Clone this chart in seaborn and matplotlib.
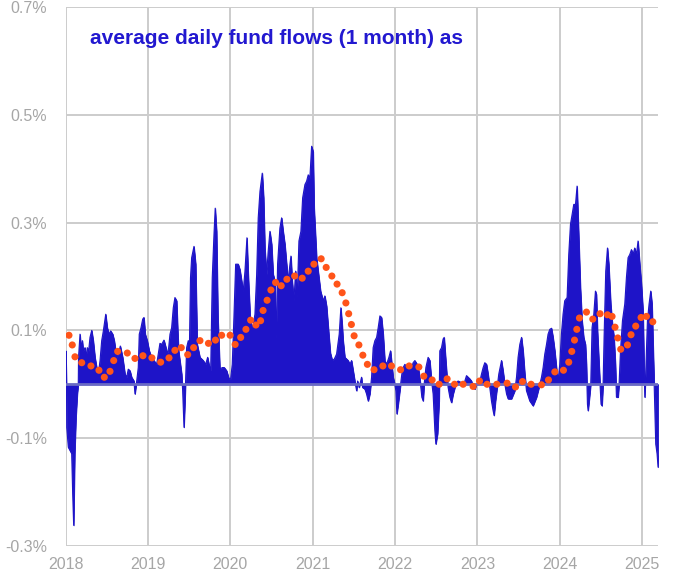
import matplotlib
matplotlib.use("Agg")
import matplotlib.pyplot as plt
import seaborn as sns
import pandas as pd

# Daily fund flows (1 month average), %
flow_years = [
    2018.004, 2018.012, 2018.015, 2018.034, 2018.055, 2018.075, 2018.087, 2018.099, 2018.112, 2018.127,
    2018.143, 2018.155, 2018.158, 2018.176, 2018.188, 2018.204, 2018.216, 2018.237, 2018.249, 2018.264,
    2018.281, 2018.297, 2018.318, 2018.337, 2018.358, 2018.379, 2018.398, 2018.419, 2018.439, 2018.459,
    2018.488, 2018.507, 2018.528, 2018.548, 2018.573, 2018.592, 2018.621, 2018.641, 2018.665, 2018.694,
    2018.722, 2018.742, 2018.762, 2018.783, 2018.803, 2018.831, 2018.843, 2018.864, 2018.883, 2018.895,
    2018.916, 2018.937, 2018.952, 2018.968, 2018.992, 2019.017, 2019.046, 2019.074, 2019.106, 2019.126,
    2019.146, 2019.167, 2019.195, 2019.219, 2019.235, 2019.252, 2019.268, 2019.288, 2019.308, 2019.328,
    2019.349, 2019.361, 2019.373, 2019.389, 2019.410, 2019.422, 2019.438, 2019.450, 2019.470, 2019.490,
    2019.504, 2019.517, 2019.531, 2019.559, 2019.580, 2019.599, 2019.632, 2019.672, 2019.701, 2019.725,
    2019.741, 2019.762, 2019.781, 2019.802, 2019.817, 2019.834, 2019.850, 2019.874, 2019.902, 2019.927,
    2019.956, 2019.984, 2020.004, 2020.024, 2020.044, 2020.065, 2020.096, 2020.117, 2020.138, 2020.157,
    2020.178, 2020.202, 2020.218, 2020.242, 2020.259, 2020.278, 2020.299, 2020.320, 2020.339, 2020.360,
    2020.388, 2020.405, 2020.420, 2020.441, 2020.460, 2020.481, 2020.502, 2020.521, 2020.542, 2020.557,
    2020.574, 2020.602, 2020.623, 2020.642, 2020.663, 2020.684, 2020.703, 2020.724, 2020.736, 2020.752,
    2020.772, 2020.793, 2020.812, 2020.833, 2020.857, 2020.878, 2020.906, 2020.926, 2020.946, 2020.966,
    2020.987, 2021.006, 2021.018, 2021.048, 2021.067, 2021.096, 2021.128, 2021.148, 2021.169, 2021.193,
    2021.215, 2021.239, 2021.263, 2021.290, 2021.322, 2021.342, 2021.358, 2021.370, 2021.391, 2021.431,
    2021.452, 2021.472, 2021.492, 2021.512, 2021.533, 2021.545, 2021.564, 2021.593, 2021.606, 2021.634,
    2021.654, 2021.674, 2021.694, 2021.715, 2021.734, 2021.755, 2021.776, 2021.795, 2021.816, 2021.836,
    2021.856, 2021.876, 2021.897, 2021.925, 2021.945, 2021.961, 2021.977, 2021.997, 2022.010, 2022.022,
    2022.038, 2022.058, 2022.082, 2022.098, 2022.119, 2022.139, 2022.159, 2022.179, 2022.200, 2022.219,
    2022.240, 2022.268, 2022.292, 2022.309, 2022.325, 2022.341, 2022.353, 2022.374, 2022.401, 2022.422,
    2022.443, 2022.462, 2022.483, 2022.495, 2022.516, 2022.535, 2022.543, 2022.564, 2022.583, 2022.596,
    2022.613, 2022.628, 2022.644, 2022.665, 2022.685, 2022.705, 2022.726, 2022.746, 2022.765, 2022.807,
    2022.826, 2022.847, 2022.867, 2022.907, 2022.928, 2022.947, 2022.968, 2022.989, 2023.029, 2023.049,
    2023.069, 2023.089, 2023.110, 2023.129, 2023.150, 2023.170, 2023.190, 2023.202, 2023.219, 2023.239,
    2023.259, 2023.292, 2023.311, 2023.332, 2023.353, 2023.372, 2023.413, 2023.453, 2023.474, 2023.493,
    2023.514, 2023.535, 2023.554, 2023.575, 2023.595, 2023.635, 2023.675, 2023.717, 2023.757, 2023.777,
    2023.797, 2023.817, 2023.838, 2023.857, 2023.878, 2023.899, 2023.918, 2023.939, 2023.959, 2023.978,
    2023.999, 2024.019, 2024.039, 2024.059, 2024.088, 2024.108, 2024.129, 2024.149, 2024.169, 2024.190,
    2024.209, 2024.230, 2024.250, 2024.270, 2024.290, 2024.311, 2024.323, 2024.335, 2024.343, 2024.360,
    2024.375, 2024.391, 2024.412, 2024.432, 2024.444, 2024.457, 2024.472, 2024.488, 2024.500, 2024.512,
    2024.525, 2024.537, 2024.557, 2024.578, 2024.594, 2024.618, 2024.639, 2024.658, 2024.675, 2024.687,
    2024.707, 2024.719, 2024.736, 2024.760, 2024.788, 2024.808, 2024.828, 2024.849, 2024.869, 2024.888,
    2024.909, 2024.930, 2024.949, 2024.970, 2024.990, 2025.010, 2025.022, 2025.031, 2025.043, 2025.063,
    2025.083, 2025.103, 2025.119, 2025.136, 2025.143, 2025.152, 2025.164, 2025.180, 2025.192,
]
flow_values = [
    0.062, 0.000, -0.080, -0.117, -0.123, -0.129, -0.203, -0.262, -0.129, -0.061,
    -0.018, 0.000, 0.050, 0.093, 0.068, 0.081, 0.062, 0.068, 0.050, 0.068,
    0.062, 0.087, 0.100, 0.081, 0.050, 0.031, 0.019, 0.044, 0.081, 0.099,
    0.130, 0.105, 0.093, 0.099, 0.093, 0.081, 0.050, 0.056, 0.071, 0.050,
    0.019, 0.013, 0.028, 0.025, 0.013, 0.006, -0.018, 0.006, 0.031, 0.093,
    0.105, 0.121, 0.124, 0.093, 0.081, 0.062, 0.050, 0.044, 0.037, 0.056,
    0.076, 0.074, 0.082, 0.068, 0.056, 0.068, 0.093, 0.105, 0.142, 0.161,
    0.155, 0.105, 0.062, 0.044, 0.019, -0.012, -0.080, -0.031, 0.068, 0.081,
    0.071, 0.198, 0.235, 0.256, 0.223, 0.074, 0.050, 0.044, 0.037, 0.050,
    0.037, 0.025, 0.198, 0.278, 0.327, 0.284, 0.124, 0.028, 0.031, 0.031,
    0.025, 0.010, 0.010, 0.037, 0.124, 0.223, 0.223, 0.213, 0.192, 0.173,
    0.210, 0.272, 0.204, 0.124, 0.105, 0.111, 0.130, 0.204, 0.309, 0.358,
    0.392, 0.346, 0.253, 0.204, 0.247, 0.284, 0.260, 0.204, 0.192, 0.081,
    0.223, 0.290, 0.309, 0.284, 0.260, 0.223, 0.192, 0.223, 0.238, 0.192,
    0.155, 0.210, 0.161, 0.266, 0.284, 0.346, 0.371, 0.377, 0.389, 0.383,
    0.442, 0.432, 0.327, 0.235, 0.210, 0.173, 0.155, 0.164, 0.145, 0.099,
    0.058, 0.044, 0.047, 0.056, 0.093, 0.142, 0.111, 0.081, 0.050, 0.044,
    0.037, 0.044, 0.025, 0.006, -0.012, 0.006, -0.006, 0.013, -0.006, -0.009,
    -0.018, -0.031, -0.018, 0.013, 0.068, 0.081, 0.087, 0.105, 0.127, 0.124,
    0.093, 0.044, 0.037, 0.050, 0.062, 0.037, 0.013, 0.000, -0.012, -0.055,
    -0.037, -0.012, 0.019, 0.031, 0.037, 0.031, 0.037, 0.037, 0.031, 0.040,
    0.044, 0.037, 0.022, 0.000, -0.024, -0.031, 0.000, 0.031, 0.050, 0.044,
    0.006, -0.018, -0.086, -0.111, -0.092, -0.031, 0.062, 0.068, 0.084, 0.087,
    0.050, 0.019, -0.006, -0.024, -0.034, -0.018, -0.006, 0.003, 0.006, 0.003,
    -0.003, 0.006, 0.016, 0.010, 0.006, -0.006, -0.009, 0.000, 0.006, 0.019,
    0.031, 0.040, 0.037, 0.019, -0.006, -0.031, -0.049, -0.058, -0.031, -0.006,
    0.019, 0.044, 0.025, 0.000, -0.018, -0.027, -0.027, -0.012, 0.013, 0.050,
    0.074, 0.087, 0.062, 0.019, -0.012, -0.031, -0.040, -0.024, 0.000, 0.013,
    0.031, 0.056, 0.074, 0.093, 0.102, 0.104, 0.087, 0.062, 0.031, 0.006,
    0.037, 0.093, 0.130, 0.155, 0.161, 0.241, 0.297, 0.315, 0.334, 0.334,
    0.368, 0.272, 0.179, 0.118, 0.087, 0.074, 0.037, -0.037, -0.049, -0.024,
    0.000, 0.105, 0.130, 0.173, 0.167, 0.099, 0.050, 0.000, -0.037, -0.040,
    0.000, 0.087, 0.210, 0.253, 0.223, 0.149, 0.111, 0.087, 0.037, -0.024,
    -0.024, 0.000, 0.062, 0.118, 0.149, 0.198, 0.235, 0.241, 0.250, 0.241,
    0.253, 0.241, 0.266, 0.223, 0.186, 0.136, 0.037, -0.024, 0.025, 0.118,
    0.149, 0.173, 0.149, 0.050, 0.013, -0.037, -0.111, -0.129, -0.154,
]

# Longer-run average (orange dots), %
avg_years = [
    2018.042, 2018.082, 2018.115, 2018.197, 2018.309, 2018.406, 2018.471, 2018.540, 2018.585, 2018.633,
    2018.750, 2018.843, 2018.940, 2019.049, 2019.155, 2019.256, 2019.328, 2019.405, 2019.483, 2019.555,
    2019.632, 2019.735, 2019.820, 2019.895, 2019.998, 2020.059, 2020.126, 2020.190, 2020.247, 2020.311,
    2020.368, 2020.398, 2020.447, 2020.493, 2020.550, 2020.618, 2020.687, 2020.781, 2020.873, 2020.946,
    2021.015, 2021.103, 2021.164, 2021.233, 2021.296, 2021.358, 2021.403, 2021.437, 2021.470, 2021.503,
    2021.561, 2021.609, 2021.664, 2021.745, 2021.852, 2021.957, 2022.067, 2022.171, 2022.289, 2022.349,
    2022.450, 2022.535, 2022.632, 2022.722, 2022.826, 2022.947, 2023.025, 2023.117, 2023.235, 2023.360,
    2023.462, 2023.547, 2023.651, 2023.777, 2023.862, 2023.939, 2024.044, 2024.108, 2024.145, 2024.178,
    2024.206, 2024.238, 2024.323, 2024.400, 2024.488, 2024.578, 2024.634, 2024.670, 2024.703, 2024.739,
    2024.821, 2024.864, 2024.921, 2024.986, 2025.051, 2025.128,
]
avg_values = [
    0.091, 0.073, 0.051, 0.040, 0.034, 0.026, 0.013, 0.024, 0.044, 0.061,
    0.058, 0.048, 0.053, 0.049, 0.041, 0.049, 0.063, 0.068, 0.055, 0.068,
    0.081, 0.076, 0.082, 0.091, 0.091, 0.074, 0.087, 0.102, 0.119, 0.110,
    0.118, 0.137, 0.156, 0.175, 0.189, 0.183, 0.195, 0.201, 0.197, 0.210,
    0.223, 0.233, 0.217, 0.201, 0.186, 0.170, 0.151, 0.131, 0.111, 0.090,
    0.073, 0.054, 0.037, 0.027, 0.034, 0.034, 0.027, 0.034, 0.032, 0.015,
    0.008, 0.000, 0.010, 0.000, 0.000, -0.004, 0.006, 0.000, 0.000, 0.002,
    -0.005, 0.005, 0.000, -0.001, 0.008, 0.023, 0.026, 0.041, 0.061, 0.082,
    0.102, 0.123, 0.134, 0.121, 0.131, 0.129, 0.126, 0.106, 0.086, 0.065,
    0.073, 0.092, 0.108, 0.124, 0.126, 0.116,
]

year_ticks = [2018, 2019, 2020, 2021, 2022, 2023, 2024, 2025]
pct_ticks = [-0.3, -0.1, 0.1, 0.3, 0.5, 0.7]
pct_labels = ['-0.3%', '-0.1%', '0.1%', '0.3%', '0.5%', '0.7%']
title_text = 'average daily fund flows (1 month) as'

df_flow = pd.DataFrame({'year': flow_years, 'flow': flow_values})
df_avg = pd.DataFrame({'year': avg_years, 'avg': avg_values})

sns.set_style('white')
plt.rcParams['font.family'] = ['Liberation Sans', 'DejaVu Sans']

blue = '#1e14c8'
orange = '#ff5419'
grey_txt = '#a6a6a6'
grid_col = '#cccccc'

fig = plt.figure(figsize=(6.76, 5.86), dpi=100)
ax = fig.add_axes([0.0969, 0.0686, 0.8769, 0.9189])

# blue flow area + orange average dots
ax.fill_between(df_flow['year'], 0, df_flow['flow'], color=blue, linewidth=0.6, zorder=2)
sns.lineplot(data=df_flow, x='year', y='flow', color=blue, linewidth=0.8, ax=ax, zorder=2)
ax.axhline(0, color='#6a6ac4', linewidth=2, zorder=3)
sns.scatterplot(data=df_avg, x='year', y='avg', color=orange, s=26, edgecolor='none', ax=ax, zorder=4)

ax.set_xlim(2018, 2025.195)
ax.set_ylim(-0.3, 0.7)
ax.set_xticks(year_ticks)
ax.set_xticklabels([str(y) for y in year_ticks])
ax.set_yticks(pct_ticks)
ax.set_yticklabels(pct_labels)
ax.tick_params(axis='both', length=0, colors=grey_txt, labelsize=11.5)
ax.tick_params(axis='y', pad=13)
ax.tick_params(axis='x', pad=8)
ax.grid(True, color=grid_col, linewidth=1.4, zorder=0)
ax.set_axisbelow(True)
for s in ax.spines.values():
    s.set_visible(False)
ax.set_xlabel('')
ax.set_ylabel('')

ax.text(0.041, 0.942, title_text, transform=ax.transAxes, ha='left', va='center',
        fontsize=15, fontweight='bold', color='#2218d0')

fig.savefig('out.png', dpi=100)
